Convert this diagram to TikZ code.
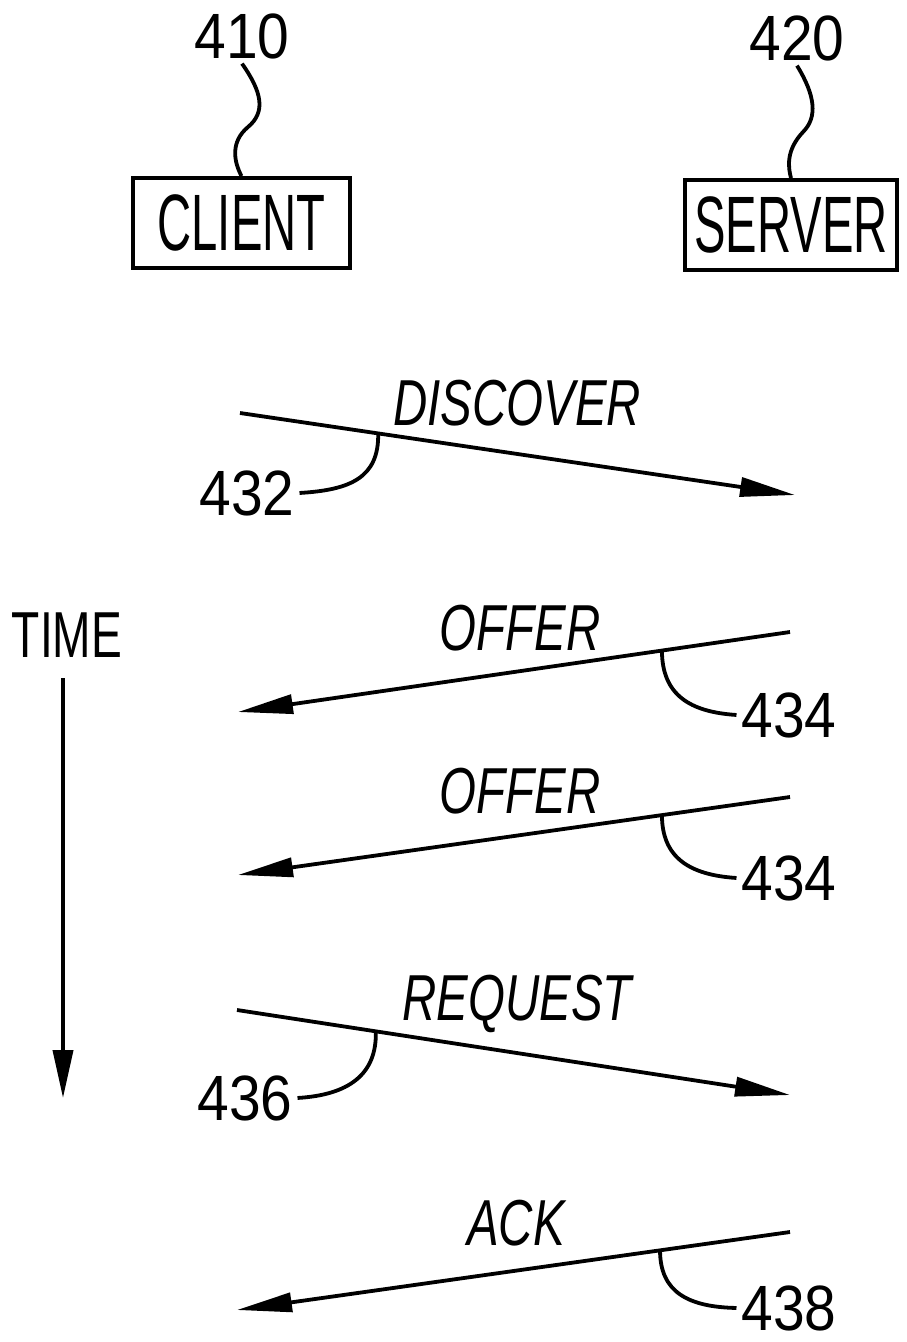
\documentclass[tikz,border=0pt]{standalone}
\usepackage{fontspec}
\setmainfont{Liberation Sans}
\usetikzlibrary{arrows.meta}
\newcommand\boxtxt[1]{\fontsize{80}{80}\selectfont\scalebox{0.59}[1]{#1}}
\newcommand\numtxt[1]{\fontsize{64}{64}\selectfont\scalebox{0.89}[1]{#1}}
\newcommand\msgtxt[1]{\fontsize{65}{65}\selectfont\itshape\scalebox{0.73}[1]{#1}}
\newcommand\timetxt[1]{\fontsize{65}{65}\selectfont\scalebox{0.71}[1]{#1}}
\begin{document}
\begin{tikzpicture}[x=1pt,y=-1pt,line width=4pt,
  actor/.style={draw,line width=4pt,minimum height=90pt,inner sep=0pt},
  msg/.style={-{Triangle[length=55pt,width=19pt]},line width=3.8pt},
  lead/.style={line width=3.8pt},
  refnum/.style={inner sep=3pt,anchor=base},
  lbl/.style={inner sep=0pt,anchor=base}]
\useasboundingbox (0,0) rectangle (907,1342);
% actors
\node[actor,minimum width=217pt] (client) at (241.5,223) {\boxtxt{CLIENT}};
\node[actor,minimum width=212pt] (server) at (791,225) {\boxtxt{SERVER}};
\node[refnum] (n410) at (242,58) {\numtxt{410}};
\node[refnum] (n420) at (797,60) {\numtxt{420}};
\draw[lead] (n410.south) .. controls (262,92) and (266,112) .. (248,127)
  .. controls (230,142) and (234,162) .. (client.north);
\draw[lead] (n420.south) .. controls (815,95) and (818,117) .. (803,132)
  .. controls (786,150) and (788,167) .. (server.north);
% time
\node[lbl] (time) at (67,657) {\timetxt{TIME}};
\coordinate (tstart) at (63,678);
\coordinate (tend) at (63,1098);
\draw[msg,-{Triangle[length=48pt,width=20pt]}] (tstart) -- (tend);
% discover
\coordinate (d1) at (240,413);
\coordinate (d2) at (795,495);
\draw[msg] (d1) -- (d2);
\path (d1) -- (d2) coordinate[pos=0.249] (l432);
\node[lbl] (discover) at (517,425) {\msgtxt{DISCOVER}};
\node[refnum] (n432) at (247,515) {\numtxt{432}};
\draw[lead] (l432) .. controls (379,478) and (350,490) .. (n432.east);
% offer 1
\coordinate (o1a) at (790,632);
\coordinate (o1b) at (238,712);
\draw[msg] (o1a) -- (o1b);
\path (o1a) -- (o1b) coordinate[pos=0.232] (l434a);
\node[lbl] (offer1) at (520,650) {\msgtxt{OFFER}};
\node[refnum] (n434a) at (789,737) {\numtxt{434}};
\draw[lead] (l434a) .. controls (662,695) and (690,712) .. (n434a.west);
% offer 2
\coordinate (o2a) at (790,797);
\coordinate (o2b) at (238,875);
\draw[msg] (o2a) -- (o2b);
\path (o2a) -- (o2b) coordinate[pos=0.232] (l434b);
\node[lbl] (offer2) at (520,813) {\msgtxt{OFFER}};
\node[refnum] (n434b) at (789,900) {\numtxt{434}};
\draw[lead] (l434b) .. controls (662,858) and (690,875) .. (n434b.west);
% request
\coordinate (r1) at (237,1010);
\coordinate (r2) at (790,1095);
\draw[msg] (r1) -- (r2);
\path (r1) -- (r2) coordinate[pos=0.251] (l436);
\node[lbl] (request) at (517,1020) {\msgtxt{REQUEST}};
\node[refnum] (n436) at (245,1120) {\numtxt{436}};
\draw[lead] (l436) .. controls (377,1075) and (348,1095) .. (n436.east);
% ack
\coordinate (a1) at (790,1232);
\coordinate (a2) at (237,1310);
\draw[msg] (a1) -- (a2);
\path (a1) -- (a2) coordinate[pos=0.235] (l438);
\node[lbl] (ack) at (516,1245) {\msgtxt{ACK}};
\node[refnum] (n438) at (789,1330) {\numtxt{438}};
\draw[lead] (l438) .. controls (660,1292) and (688,1307) .. (n438.west);
\end{tikzpicture}
\end{document}
